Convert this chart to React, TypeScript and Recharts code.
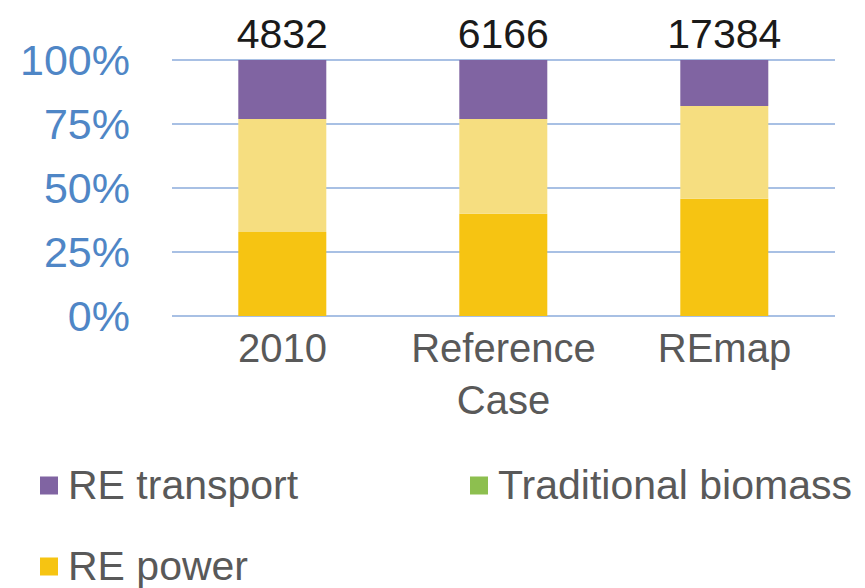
import React from "react";
import {
  BarChart,
  Bar,
  XAxis,
  YAxis,
  CartesianGrid,
  Legend,
  LabelList,
} from "recharts";

const categories = ["2010", "Reference\nCase", "REmap"];
const totals = [4832, 6166, 17384];

// shares in percent, bottom to top
const rePower = [32.8, 39.9, 45.8];
const reHeat = [44.2, 37.1, 36.2];
const tradBiomass = [0, 0, 0];
const reTransport = [23.0, 23.0, 18.0];

const yTicks = [0, 25, 50, 75, 100];

const FONT = "'Liberation Sans', Arial, sans-serif";

const data = categories.map((c, i) => ({
  category: c,
  rePower: rePower[i],
  reHeat: reHeat[i],
  tradBiomass: tradBiomass[i],
  reTransport: reTransport[i],
}));

const legendItems = [
  { name: "RE transport", color: "#8064A2", left: 40, top: 27 },
  { name: "Traditional biomass", color: "#8DBF4F", left: 470, top: 27 },
  { name: "RE power", color: "#F6C412", left: 40, top: 108 },
];

const CategoryTick = ({ x, y, payload }: any) => {
  const lines = String(payload.value).split("\n");
  return (
    <text x={x} y={y} textAnchor="middle" fill="#595959" fontSize={40} fontFamily={FONT}>
      {lines.map((l, i) => (
        <tspan key={i} x={x} dy={i === 0 ? 38 : 52}>
          {l}
        </tspan>
      ))}
    </text>
  );
};

const TotalLabel = ({ x, y, width, index }: any) => (
  <text
    x={x + width / 2}
    y={y - 12}
    textAnchor="middle"
    fill="#1a1a1a"
    fontSize={41}
    fontFamily={FONT}
  >
    {totals[index]}
  </text>
);

const LegendBox = () => (
  <div style={{ position: "relative", height: 130, fontFamily: FONT, fontSize: 41, color: "#595959" }}>
    {legendItems.map((it) => (
      <div
        key={it.name}
        style={{
          position: "absolute",
          left: it.left,
          top: it.top,
          transform: "translateY(-50%)",
          display: "flex",
          alignItems: "center",
          whiteSpace: "nowrap",
        }}
      >
        <span style={{ width: 18, height: 18, background: it.color, marginRight: 10, display: "inline-block" }} />
        {it.name}
      </div>
    ))}
  </div>
);

export default function App() {
  return (
    <div style={{ position: "absolute", left: 0, top: 0, background: "#fff" }}>
      <BarChart
        width={865}
        height={588}
        data={data}
        margin={{ top: 60, right: 30, left: 0, bottom: 0 }}
        barCategoryGap="30%"
      >
        <CartesianGrid vertical={false} stroke="#A8C0E4" strokeWidth={2} />
        <XAxis
          dataKey="category"
          axisLine={false}
          tickLine={false}
          height={142}
          interval={0}
          tick={<CategoryTick />}
        />
        <YAxis
          width={172}
          domain={[0, 100]}
          ticks={yTicks}
          axisLine={false}
          tickLine={false}
          tickMargin={36}
          tickFormatter={(v) => `${v}%`}
          tick={{ fill: "#4F86C6", fontSize: 43, fontFamily: FONT }}
        />
        <Legend verticalAlign="bottom" content={<LegendBox />} />
        <Bar dataKey="rePower" stackId="a" fill="#F6C412" name="RE power" isAnimationActive={false} />
        <Bar dataKey="reHeat" stackId="a" fill="#F6DE80" name="RE heat" legendType="none" isAnimationActive={false} />
        <Bar dataKey="tradBiomass" stackId="a" fill="#8DBF4F" name="Traditional biomass" isAnimationActive={false} />
        <Bar dataKey="reTransport" stackId="a" fill="#8064A2" name="RE transport" isAnimationActive={false}>
          <LabelList content={<TotalLabel />} />
        </Bar>
      </BarChart>
    </div>
  );
}
